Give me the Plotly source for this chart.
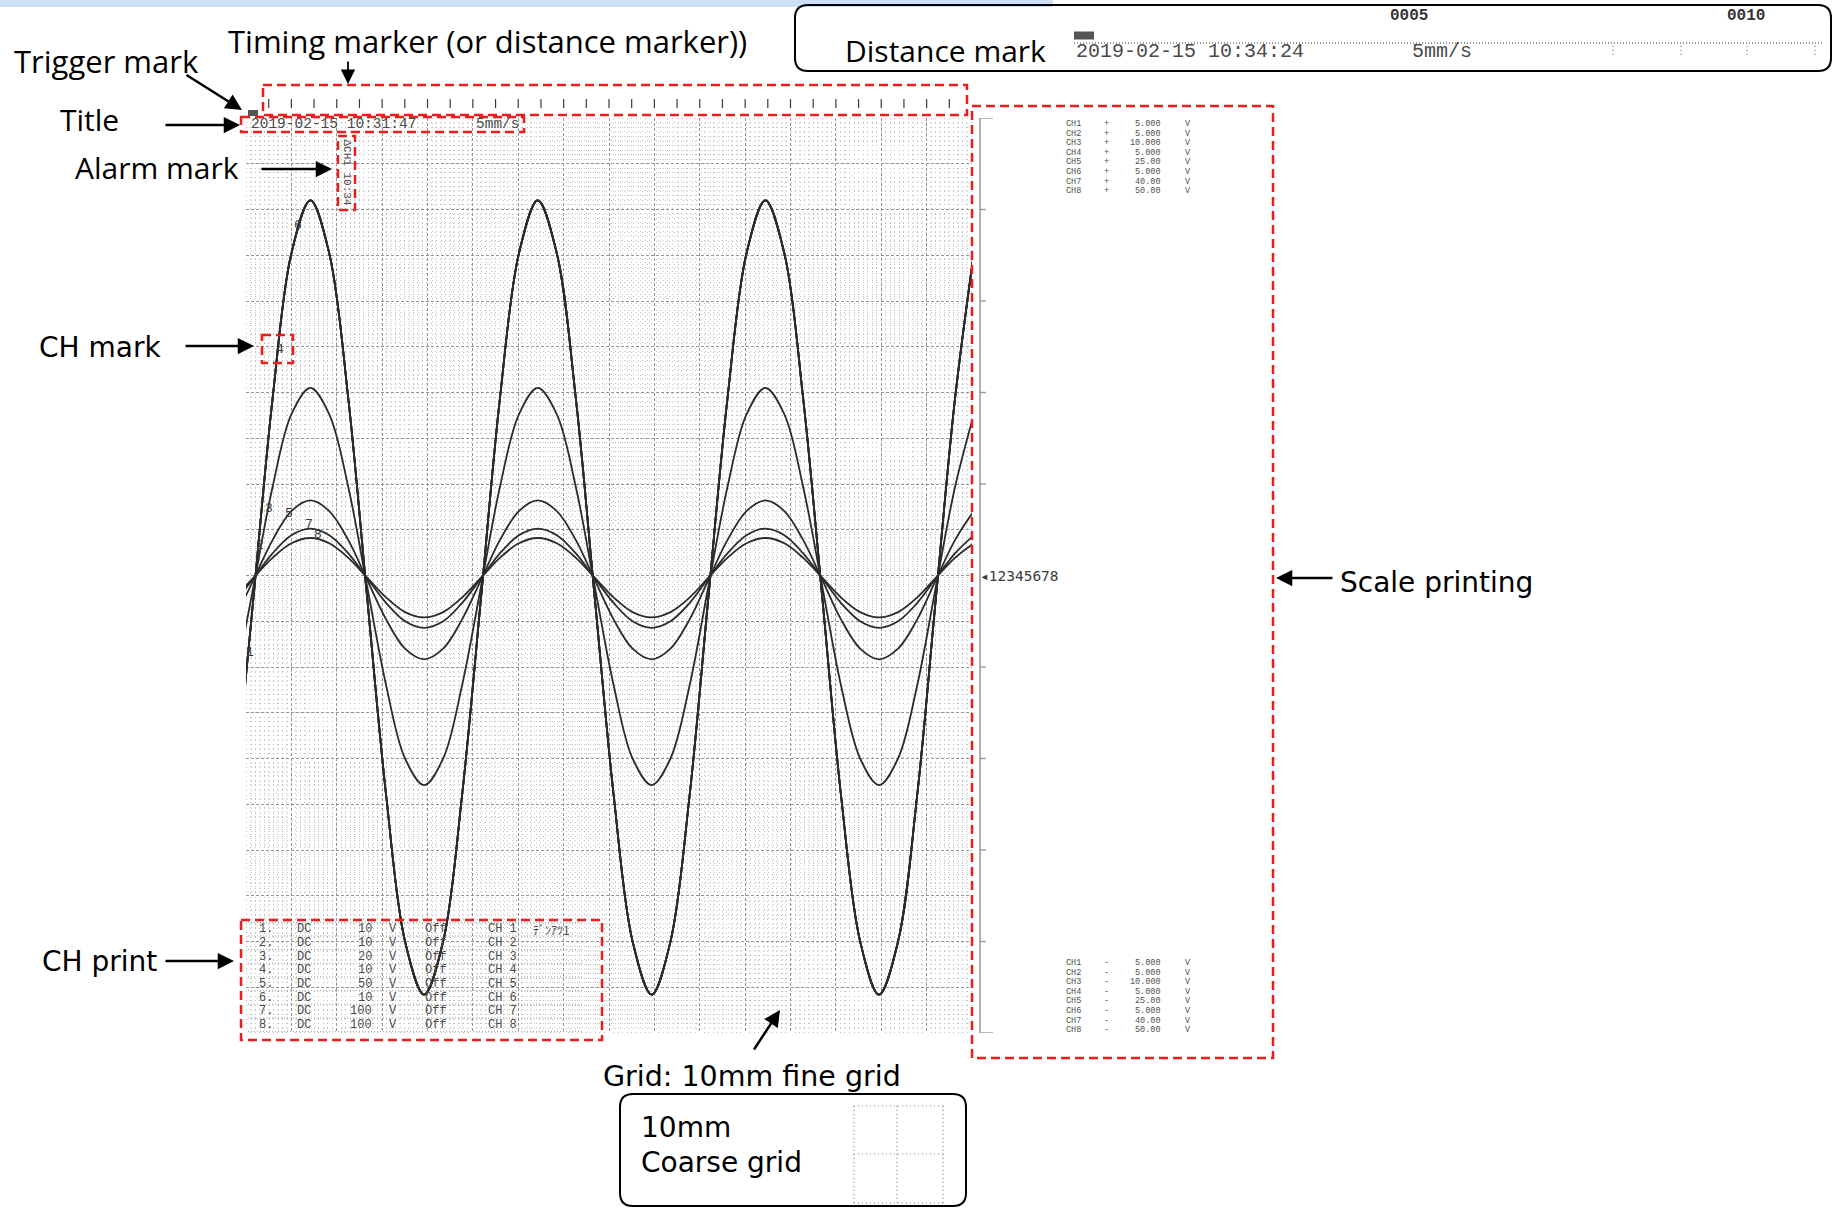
import plotly.graph_objects as go

W, H = 1835, 1211

# ---------------- data ----------------
channels = ["CH1", "CH2", "CH3", "CH4", "CH5", "CH6", "CH7", "CH8"]
ch_scale_v = [5, 5, 10, 5, 25, 5, 40, 50]          # +/- full scale of each channel (V)

# common input signal (V) sampled along the recording time (s)
time_s = [-0.51, 0.33, 1.17, 2.00, 2.84, 3.67, 4.51, 5.34, 6.18, 7.01, 7.85, 8.69,
          9.52, 10.36, 11.19, 12.03, 12.86, 13.70, 14.54, 15.37, 16.21, 17.04, 17.88,
          18.71, 19.55, 20.38, 21.22, 22.06, 22.89, 23.73, 24.56, 25.40, 26.23, 27.07,
          27.90, 28.74, 29.58, 30.41, 31.25, 32.08]
input_v = [-2.41, -0.24, 1.93, 3.52, 4.10, 3.52, 1.93, -0.24, -2.41, -4.00, -4.58, -4.00,
           -2.41, -0.24, 1.93, 3.52, 4.10, 3.52, 1.93, -0.24, -2.41, -4.00, -4.58, -4.00,
           -2.41, -0.24, 1.93, 3.52, 4.10, 3.52, 1.93, -0.24, -2.41, -4.00, -4.58, -4.00,
           -2.41, -0.24, 1.93, 3.52]

# channel mark digits (time s, divisions)
ch_mark_label = ["1", "2", "3", "4", "5", "6", "7", "8"]
ch_mark_t = [0.18, 0.62, 1.03, 1.50, 1.91, 2.29, 2.78, 3.16]
ch_mark_div = [-1.69, 0.65, 1.47, 4.93, 1.36, 7.65, 1.12, 0.89]

timing_marks_s = list(range(1, 32))
scale_tick_div = [-10, -8, -6, -4, -2, 2, 4, 6, 8, 10]

scale_upper_sign = ["+", "+", "+", "+", "+", "+", "+", "+"]
scale_upper_val = ["5.000", "5.000", "10.000", "5.000", "25.00", "5.000", "40.00", "50.00"]
scale_lower_sign = ["-", "-", "-", "-", "-", "-", "-", "-"]
scale_lower_val = ["5.000", "5.000", "10.000", "5.000", "25.00", "5.000", "40.00", "50.00"]
scale_unit = "V"

print_no = ["1.", "2.", "3.", "4.", "5.", "6.", "7.", "8."]
print_coupling = ["DC", "DC", "DC", "DC", "DC", "DC", "DC", "DC"]
print_range = ["10", "10", "20", "10", "50", "10", "100", "100"]
print_filter = ["Off", "Off", "Off", "Off", "Off", "Off", "Off", "Off"]
print_comment = ["CH 1", "CH 2", "CH 3", "CH 4", "CH 5", "CH 6", "CH 7", "CH 8"]
print_note = "ﾃﾞﾝｱﾂ1"

title_text = "2019-02-15 10:31:47"
speed_text = "5mm/s"
dist_date = "2019-02-15 10:34:24"
dist_counts = ["0005", "0010"]
alarm_text = "ΔCH1 10:34"

# ---------------- geometry helpers ----------------
X0, X1, Y0, Y1 = 246, 972, 118, 1033


def fx(p):
    return p / W


def fy(p):
    return 1 - p / H


REC = "Liberation Mono, DejaVu Sans Mono, monospace"
SANS_A = "Open Sans, Noto Sans, sans-serif"
SANS_B = "DejaVu Sans, Verdana, sans-serif"
REC_C = "#4a4a4a"
RED = "#f01c1c"

shapes = []
annotations = []


def txt(s, x, y, size, family, color="black", xanchor="left", weight="normal", **kw):
    annotations.append(dict(text=s, x=fx(x), y=fy(y), xref="paper", yref="paper",
                            showarrow=False, xanchor=xanchor, yanchor="middle",
                            font=dict(size=size, family=family, color=color, weight=weight), **kw))


def arrow(tx, ty, hx, hy, w=2.5, size=1.3):
    annotations.append(dict(text="", x=fx(hx), y=fy(hy), xref="paper", yref="paper",
                            ax=tx - hx, ay=ty - hy, axref="pixel", ayref="pixel",
                            showarrow=True, arrowhead=2, arrowsize=size,
                            arrowwidth=w, arrowcolor="black", standoff=0))


def red_box(x0, y0, x1, y1):
    shapes.append(dict(type="rect", xref="paper", yref="paper",
                       x0=fx(x0), x1=fx(x1), y0=fy(y0), y1=fy(y1),
                       line=dict(color=RED, width=2.5, dash="9px,5px"), layer="above"))


def white_rect(x0, y0, x1, y1):
    shapes.append(dict(type="rect", xref="paper", yref="paper",
                       x0=fx(x0), x1=fx(x1), y0=fy(y0), y1=fy(y1),
                       fillcolor="white", line=dict(width=0), layer="between"))


def seg(x0, y0, x1, y1, color, width=1, dash="solid", layer="above"):
    shapes.append(dict(type="line", xref="paper", yref="paper",
                       x0=fx(x0), x1=fx(x1), y0=fy(y0), y1=fy(y1),
                       line=dict(color=color, width=width, dash=dash), layer=layer))


def rrect(x0, y0, x1, y1, r, width=2):
    p = (f"M {fx(x0 + r)},{fy(y0)} L {fx(x1 - r)},{fy(y0)} Q {fx(x1)},{fy(y0)} {fx(x1)},{fy(y0 + r)} "
         f"L {fx(x1)},{fy(y1 - r)} Q {fx(x1)},{fy(y1)} {fx(x1 - r)},{fy(y1)} "
         f"L {fx(x0 + r)},{fy(y1)} Q {fx(x0)},{fy(y1)} {fx(x0)},{fy(y1 - r)} "
         f"L {fx(x0)},{fy(y0 + r)} Q {fx(x0)},{fy(y0)} {fx(x0 + r)},{fy(y0)} Z")
    shapes.append(dict(type="path", xref="paper", yref="paper", path=p,
                       line=dict(color="black", width=width), layer="above"))


# ---------------- figure ----------------
fig = go.Figure()

for i, ch in enumerate(channels):
    fig.add_trace(go.Scatter(
        x=time_s, y=input_v, name=ch, mode="lines",
        yaxis="y" if i == 0 else f"y{i + 1}",
        line=dict(color="#2b2b2b", width=1.8, shape="spline", smoothing=1),
        showlegend=False, hoverinfo="skip"))

layout = dict(
    width=W, height=H, margin=dict(l=0, r=0, t=0, b=0),
    paper_bgcolor="white", plot_bgcolor="white", showlegend=False,
    xaxis=dict(domain=[fx(X0), fx(X1)], range=[0, 32], tick0=0, dtick=2,
               showgrid=True, gridcolor="#959595", gridwidth=1, griddash="3px,2px",
               minor=dict(dtick=0.2, showgrid=True, gridcolor="#c2c2c2", gridwidth=1,
                          griddash="1px,3.5px"),
               showticklabels=False, ticks="", zeroline=False, showline=False,
               fixedrange=True),
)
for i, s in enumerate(ch_scale_v):
    key = "yaxis" if i == 0 else f"yaxis{i + 1}"
    if i == 0:
        layout[key] = dict(domain=[fy(Y1), fy(Y0)], range=[-s, s], tick0=0, dtick=s / 10,
                           showgrid=True, gridcolor="#959595", gridwidth=1, griddash="3px,2px",
                           minor=dict(dtick=s / 100, showgrid=True, gridcolor="#c2c2c2",
                                      gridwidth=1, griddash="1px,3.5px"),
                           showticklabels=False, ticks="", zeroline=False, showline=False,
                           fixedrange=True)
    else:
        layout[key] = dict(overlaying="y", range=[-s, s], visible=False, fixedrange=True)

DIV = ch_scale_v[0] / 10.0  # volts per division on the CH1 axis

# top light blue band
shapes.append(dict(type="rect", xref="paper", yref="paper", x0=0, x1=fx(1053), y0=fy(7), y1=1,
                   fillcolor="#cde0f5", line=dict(width=0), layer="below"))

# white areas printed over the grid
white_rect(X0, Y0, 524, 132)
white_rect(340, 137, 353, 208)
white_rect(X0, 921, 584, Y1)

# timing marker ticks
for t in timing_marks_s:
    shapes.append(dict(type="line", xref="x", yref="paper", x0=t, x1=t, y0=fy(108), y1=fy(99),
                       line=dict(color="#3a3a3a", width=1.2), layer="above"))

# trigger mark icon
shapes.append(dict(type="rect", xref="paper", yref="paper", x0=fx(248), x1=fx(258),
                   y0=fy(116), y1=fy(110), fillcolor="#555", line=dict(width=0)))

# title print
txt(title_text, 249, 124.5, 14.5, REC, REC_C)
txt(speed_text, 474, 124.5, 14.5, REC, REC_C)

# alarm mark (vertical)
annotations.append(dict(text=alarm_text, x=fx(346.5), y=fy(172), xref="paper", yref="paper",
                        showarrow=False, textangle=90, xanchor="center", yanchor="middle",
                        font=dict(size=11, family=REC, color=REC_C)))

# channel mark digits
for lab, t, d in zip(ch_mark_label, ch_mark_t, ch_mark_div):
    annotations.append(dict(text=lab, x=t, y=d * DIV, xref="x", yref="y", showarrow=False,
                            xanchor="center", yanchor="middle",
                            font=dict(size=13, family=REC, color="#3a3a3a")))

# CH print block
row0, rstep = 929.3, 13.67
for i in range(8):
    cy = row0 + rstep * i
    txt(print_no[i], 257, cy, 12, REC, REC_C)
    txt(print_coupling[i], 295, cy, 12, REC, REC_C)
    txt(print_range[i], 374, cy, 12, REC, REC_C, xanchor="right")
    txt("V", 387, cy, 12, REC, REC_C)
    txt(print_filter[i], 423, cy, 12, REC, REC_C)
    txt(print_comment[i], 486, cy, 12, REC, REC_C)
txt(print_note, 531, row0, 12, "Noto Sans CJK JP, sans-serif", REC_C)
for i in range(9):
    yy = row0 - 7 + rstep * i
    seg(X0 + 2, yy, 583, yy, "#9a9a9a", 1, "1px,2px", layer="between")

# scale printing
shapes.append(dict(type="line", xref="paper", yref="y", x0=fx(980), x1=fx(980),
                   y0=-ch_scale_v[0], y1=ch_scale_v[0], line=dict(color="#9c9c9c", width=1.6)))
for d in scale_tick_div:
    x_end = 993 if abs(d) == 10 else 986
    shapes.append(dict(type="line", xref="paper", yref="y", x0=fx(980), x1=fx(x_end),
                       y0=d * DIV, y1=d * DIV, line=dict(color="#9c9c9c", width=1.4)))
annotations.append(dict(text="◂12345678", x=fx(978), y=0, xref="paper", yref="y",
                        showarrow=False, xanchor="left", yanchor="middle",
                        font=dict(size=14.5, family="DejaVu Sans Mono, monospace", color="#3a3a3a")))
for i, ch in enumerate(channels):
    for base, sign, val in ((124.0, scale_upper_sign[i], scale_upper_val[i]),
                            (963.0, scale_lower_sign[i], scale_lower_val[i])):
        cy = base + 9.6 * i
        txt(ch, 1064, cy, 8.5, REC, "#505050")
        txt(sign, 1106, cy, 8.5, REC, "#505050", xanchor="center")
        txt(val, 1163, cy, 8.5, REC, "#505050", xanchor="right")
        txt(scale_unit, 1183, cy, 8.5, REC, "#505050")

# distance mark box
rrect(795, 5, 1831, 71, 13, 2)
txt("Distance mark", 843, 50, 30, SANS_A)
shapes.append(dict(type="rect", xref="paper", yref="paper", x0=fx(1074), x1=fx(1094),
                   y0=fy(39.5), y1=fy(31.5), fillcolor="#555", line=dict(width=0)))
seg(1074, 43, 1823, 43, "#7a7a7a", 1.4, "1px,2px")
for xm in (1613, 1681, 1747, 1815):
    seg(xm, 46, xm, 57, "#8a8a8a", 1.4, "1px,3px")
txt(dist_date, 1074, 52, 20, REC, REC_C)
txt(speed_text, 1410, 52, 20, REC, REC_C)
txt(dist_counts[0], 1409, 16, 16, REC, "#333", xanchor="center", weight="bold")
txt(dist_counts[1], 1746, 16, 16, REC, "#333", xanchor="center", weight="bold")

# coarse grid legend box
rrect(620, 1094, 966, 1206, 13, 2)
txt("10mm", 639, 1127, 28, SANS_B)
txt("Coarse grid", 639, 1162, 28, SANS_B)
for (a, b, c, d) in ((854, 1106, 943, 1106), (854, 1203, 943, 1203), (854, 1106, 854, 1203),
                     (943, 1106, 943, 1203), (897, 1106, 897, 1203), (854, 1154, 943, 1154)):
    seg(a, b, c, d, "#8a8a8a", 1.2, "1px,3px")

# red dashed callout boxes
red_box(263, 85, 967, 115)
red_box(241, 117, 524, 132)
red_box(338, 136, 355, 210)
red_box(262, 335, 293, 363)
red_box(241, 920, 602, 1040)
red_box(972, 106, 1273, 1058)

# callout labels
txt("Timing marker (or distance marker))", 226, 41, 31, SANS_A)
txt("Trigger mark", 12, 61, 31, SANS_A)
txt("Title", 58, 119, 30, SANS_A)
txt("Alarm mark", 73, 168, 30, SANS_A)
txt("CH mark", 37, 347, 28, SANS_B)
txt("CH print", 40, 962, 28, SANS_B)
txt("Scale printing", 1338, 582, 28, SANS_B)
txt("Grid: 10mm fine grid", 601, 1076, 28.5, SANS_B)

# arrows
arrow(348, 60, 348, 84, w=1.8, size=1.6)
arrow(185, 74, 242, 110)
arrow(164, 125, 240, 125)
arrow(260, 169, 332, 169)
arrow(184, 346, 254, 346)
arrow(164, 961, 234, 961)
arrow(1334, 578, 1276, 578)
arrow(753, 1051, 780, 1010)

layout["shapes"] = shapes
layout["annotations"] = annotations
fig.update_layout(**layout)

fig.write_html("out.html", config={"displayModeBar": False},
               post_script="document.body.style.margin='0';")
